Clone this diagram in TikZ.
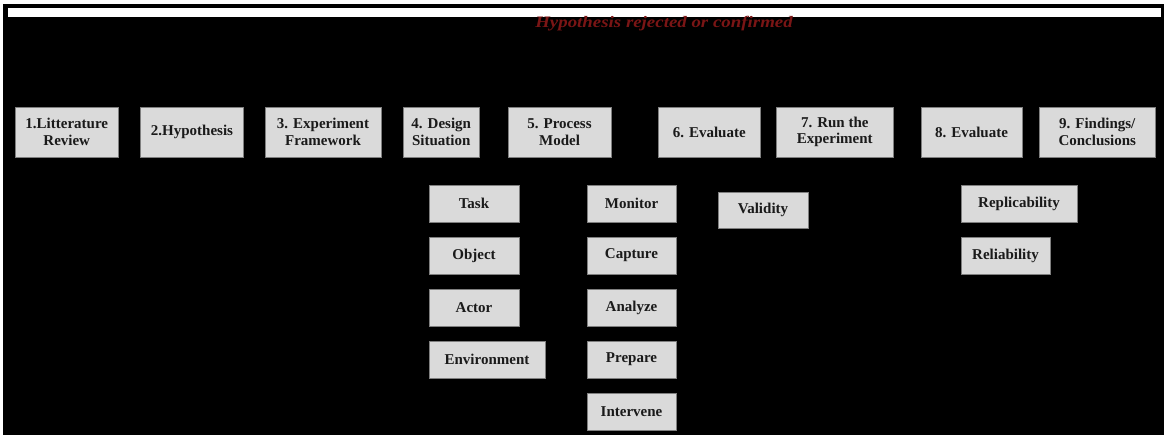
\documentclass[tikz,border=0pt]{standalone}
\usepackage{fontspec}
\setmainfont{Liberation Serif}
\definecolor{boxgray}{HTML}{DADADA}
\definecolor{edgegray}{HTML}{7F7F7F}
\definecolor{textdark}{HTML}{1A1A1A}
\definecolor{darkred}{HTML}{7A1515}
\tikzset{
  stepbox/.style={draw=edgegray, fill=boxgray, line width=0.9pt, inner sep=0pt,
    align=center, text=textdark, font=\fontsize{15}{16.5}\selectfont\bfseries,
    minimum height=50pt},
  subbox/.style={stepbox, minimum height=37pt},
  redlabel/.style={text=darkred, font=\fontsize{16}{18}\selectfont\bfseries\itshape, inner sep=0pt}
}
\begin{document}
\begin{tikzpicture}[x=1pt,y=-1pt]
\useasboundingbox (0,0) rectangle (1164,437);
\fill[white] (0,0) rectangle (1164,437);
\fill[black] (3,4) rectangle (1164,435);
\fill[white] (8,8) rectangle (1161,17);
\node[redlabel, anchor=base] (lbl) at (664,27.5) {\scalebox{1.18}[1]{Hypothesis rejected or confirmed}};
% main steps
\node[stepbox, minimum width=103.5pt] (s1) at (66.75,132) {1.Litterature\\Review};
\node[stepbox, minimum width=103pt] (s2) at (192,132) {2.Hypothesis};
\node[stepbox, minimum width=116pt] (s3) at (323,132) {3. Experiment\\Framework};
\node[stepbox, minimum width=76.5pt] (s4) at (441.25,132) {4. Design\\Situation};
\node[stepbox, minimum width=103pt] (s5) at (559.5,132) {5. Process\\Model};
\node[stepbox, minimum width=102.5pt] (s6) at (709.25,132) {6. Evaluate};
\node[stepbox, minimum width=116.5pt] (s7) at (834.75,132) {7. Run the\\Experiment};
\node[stepbox, minimum width=101pt] (s8) at (971.5,132) {8. Evaluate};
\node[stepbox, minimum width=116.5pt] (s9) at (1097.25,132) {9. Findings/\\Conclusions};
% design situation
\node[subbox, minimum width=90pt] (task) at (474,203.5) {Task};
\node[subbox, minimum width=90pt] (object) at (474,255.5) {Object};
\node[subbox, minimum width=90pt] (actor) at (474,307.5) {Actor};
\node[subbox, minimum width=116pt] (env) at (487,359.5) {Environment};
% process model
\node[subbox, minimum width=89pt] (monitor) at (631.5,203.5) {Monitor};
\node[subbox, minimum width=89pt] (capture) at (631.5,255.5) {Capture};
\node[subbox, minimum width=89pt] (analyze) at (631.5,307.5) {Analyze};
\node[subbox, minimum width=89pt] (prepare) at (631.5,359.5) {Prepare};
\node[subbox, minimum width=89pt] (intervene) at (631.5,411.5) {Intervene};
% evaluate
\node[subbox, minimum width=90pt, minimum height=36pt] (validity) at (763,210) {Validity};
\node[subbox, minimum width=116pt] (repl) at (1019,203.5) {Replicability};
\node[subbox, minimum width=89pt] (reli) at (1005.5,255.5) {Reliability};
\end{tikzpicture}
\end{document}
